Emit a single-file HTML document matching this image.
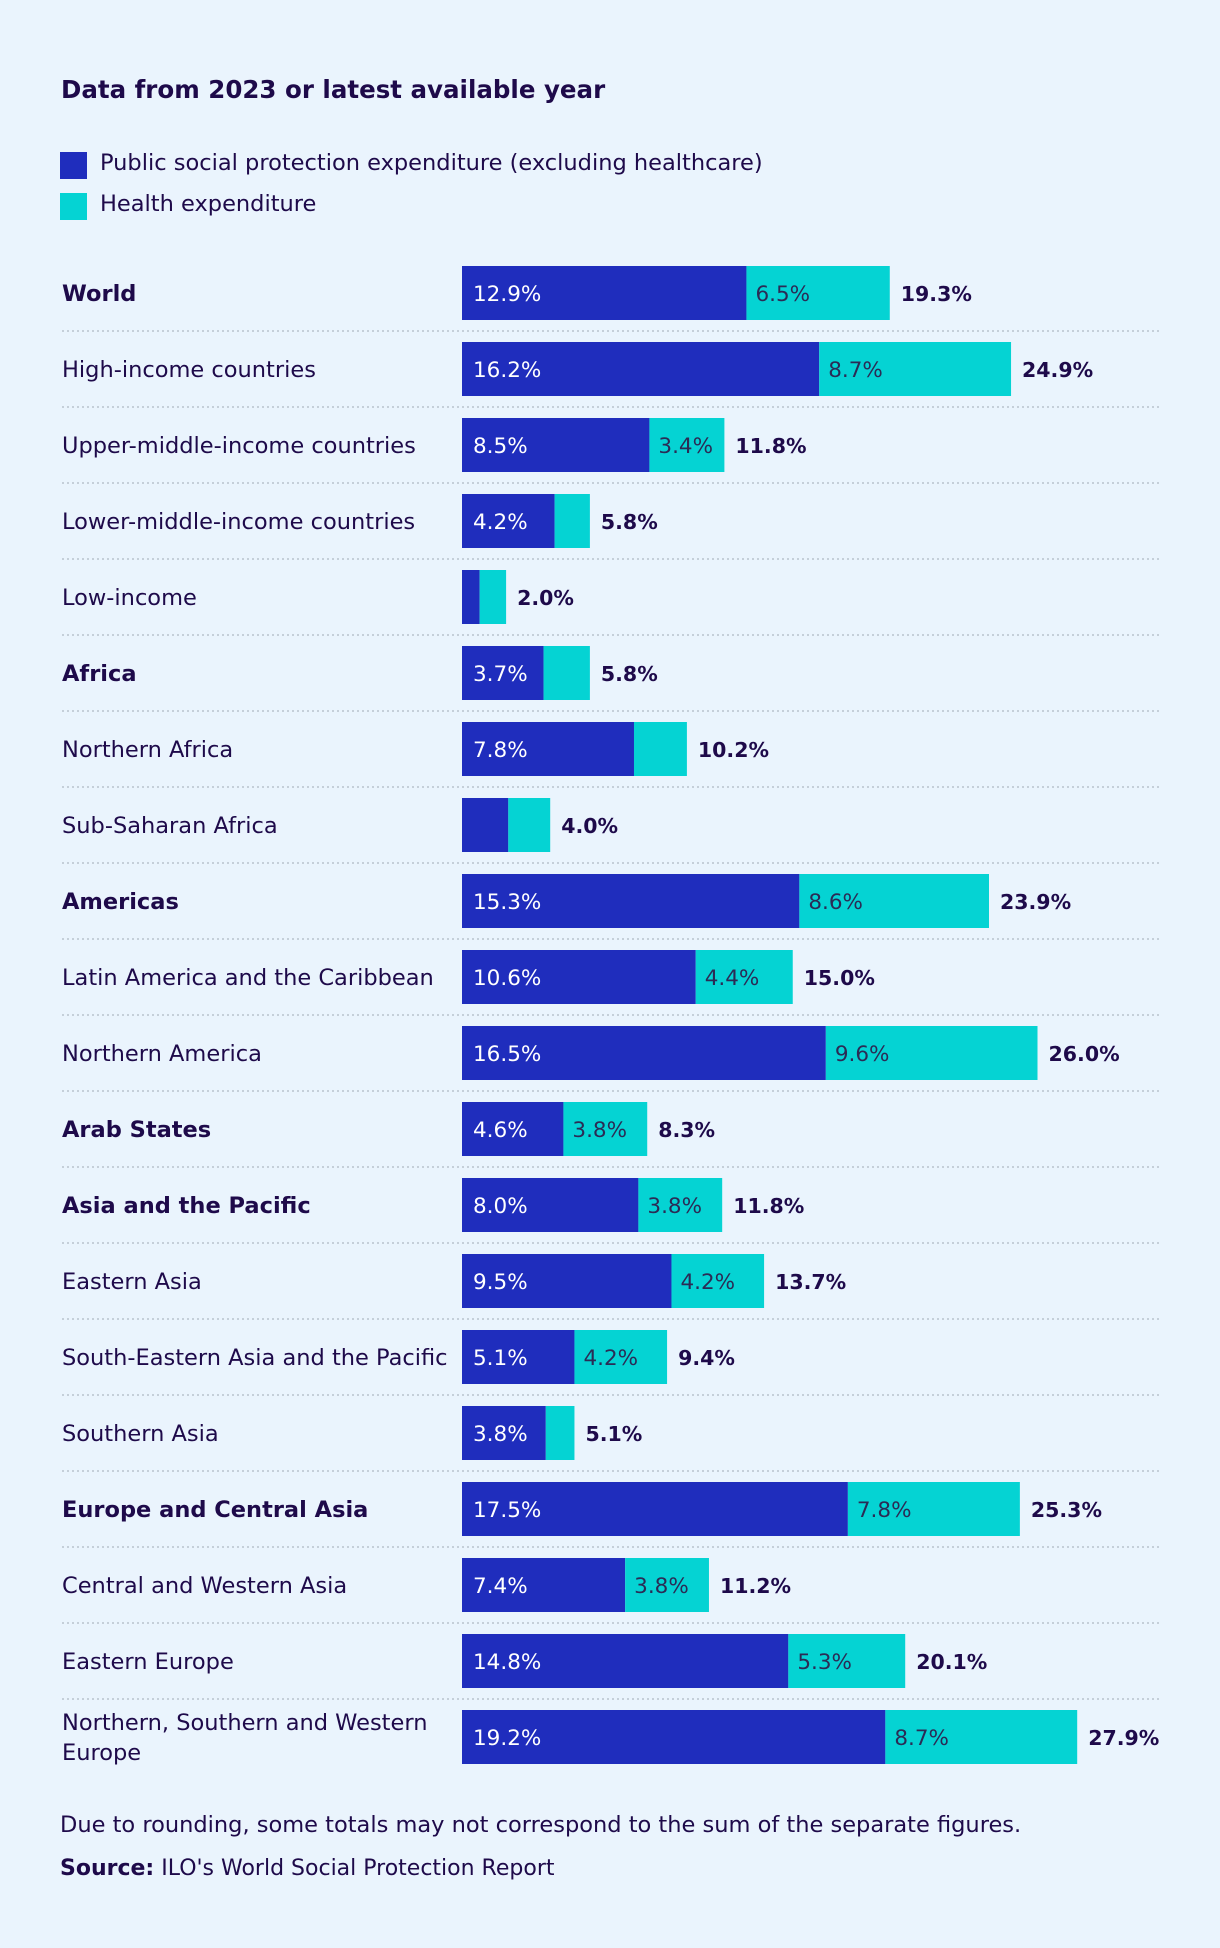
<!DOCTYPE html>
<html><head><meta charset="utf-8"><style>
body{margin:0;width:1220px;height:1948px;background:#eaf4fd;font-family:"DejaVu Sans","Liberation Sans",sans-serif;color:#1e0a4a;position:relative;overflow:hidden}
.t{position:absolute;white-space:nowrap}
</style></head><body>
<div class="t" style="left:61px;top:75px;font-size:24.5px;font-weight:bold">Data from 2023 or latest available year</div>
<div style="position:absolute;left:60px;top:152px;width:27px;height:27px;background:#1f2dbd"></div>
<div class="t" style="left:100px;top:150px;font-size:22.5px">Public social protection expenditure (excluding healthcare)</div>
<div style="position:absolute;left:60px;top:193px;width:27px;height:27px;background:#05d3d3"></div>
<div class="t" style="left:100px;top:191px;font-size:22.5px">Health expenditure</div>
<svg id="chart" width="1220" height="1800" style="position:absolute;left:0;top:0;font-family:'DejaVu Sans','Liberation Sans',sans-serif" xmlns="http://www.w3.org/2000/svg"></svg>
<div class="t" style="left:60px;top:1812px;font-size:22.5px">Due to rounding, some totals may not correspond to the sum of the separate figures.</div>
<div class="t" style="left:60px;top:1856px;font-size:22px"><b>Source:</b> ILO's World Social Protection Report</div>
<script>
const categories=["World","High-income countries","Upper-middle-income countries","Lower-middle-income countries","Low-income","Africa","Northern Africa","Sub-Saharan Africa","Americas","Latin America and the Caribbean","Northern America","Arab States","Asia and the Pacific","Eastern Asia","South-Eastern Asia and the Pacific","Southern Asia","Europe and Central Asia","Central and Western Asia","Eastern Europe","Northern, Southern and Western Europe"];
const boldRows=[1,0,0,0,0,1,0,0,1,0,0,1,1,0,0,0,1,0,0,0];
const socialValues=[12.9,16.2,8.5,4.2,0.8,3.7,7.8,2.1,15.3,10.6,16.5,4.6,8.0,9.5,5.1,3.8,17.5,7.4,14.8,19.2];
const healthValues=[6.5,8.7,3.4,1.6,1.2,2.1,2.4,1.9,8.6,4.4,9.6,3.8,3.8,4.2,4.2,1.3,7.8,3.8,5.3,8.7];
const totalValues=[19.3,24.9,11.8,5.8,2.0,5.8,10.2,4.0,23.9,15.0,26.0,8.3,11.8,13.7,9.4,5.1,25.3,11.2,20.1,27.9];
const NS="http://www.w3.org/2000/svg",svg=document.getElementById('chart');
const x0=462,pxPer=22.05,y0=266,pitch=76,bh=54;
const xs=v=>x0+v*pxPer, ys=i=>y0+i*pitch;
function mk(t,a){const e=document.createElementNS(NS,t);for(const k in a)e.setAttribute(k,a[k]);svg.appendChild(e);return e;}
categories.forEach((c,i)=>{
 const y=ys(i),cy=y+bh/2+8;
 if(i>0){const d=mk('line',{x1:62,x2:1160,y1:y-11,y2:y-11,stroke:'#c5cfd9','stroke-width':2,'stroke-dasharray':'2 3'});
 
 }
 const s=socialValues[i],h=healthValues[i],tot=totalValues[i];
 const b1=mk('rect',{x:xs(0),y:y,width:xs(s)-xs(0),height:bh,fill:'#1f2dbd'});
 
 
 const b2=mk('rect',{x:xs(s),y:y,width:xs(s+h)-xs(s),height:bh,fill:'#05d3d3'});
 
 
 if(i===19){
  const l=mk('text',{x:62,y:y+20,'font-size':22.5,fill:'#1e0a4a'});l.textContent="Northern, Southern and Western";
  
  
  const l2=mk('text',{x:62,y:y+50,'font-size':22.5,fill:'#1e0a4a'});l2.textContent="Europe";
  
  
 } else {
  const l=mk('text',{x:62,y:cy,'font-size':22.5,fill:'#1e0a4a','font-weight':boldRows[i]?'bold':'normal'});l.textContent=c;
  
  
 }
 if(s>=3){const t=mk('text',{x:xs(0)+11,y:cy,'font-size':21.5,fill:'#ffffff'});t.textContent=s.toFixed(1)+'%';
  
  }
 if(h>=3){const t=mk('text',{x:xs(s)+9,y:cy,'font-size':21.5,fill:'#2b2b55'});t.textContent=h.toFixed(1)+'%';
  
  }
 const t=mk('text',{x:xs(s+h)+11,y:cy,'font-size':20.5,'font-weight':'bold',fill:'#1e0a4a'});t.textContent=tot.toFixed(1)+'%';
 
 
});
</script>
</body></html>
